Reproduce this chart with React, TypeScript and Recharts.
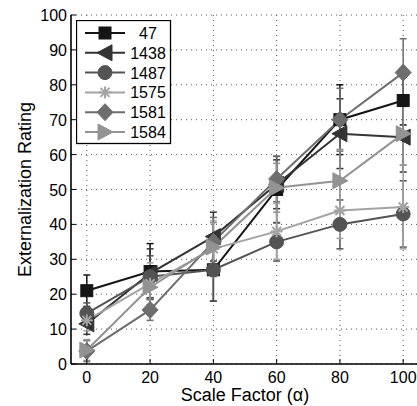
import React from 'react'
import { LineChart, Line, XAxis, YAxis, CartesianGrid, ErrorBar } from 'recharts'

// scale factor (alpha) on the x axis
const factors = [0, 20, 40, 60, 80, 100]

// mean externalization rating per participant
const r47 = [21, 26.5, 27, 50, 70, 75.5]
const r1438 = [11.5, 26, 36.5, 51.5, 66, 65]
const r1487 = [14.5, 25, 27, 35, 40, 43]
const r1575 = [12.5, 23, 33, 38, 44, 45]
const r1581 = [3.7, 15.5, 35, 53, 70, 83.5]
const r1584 = [4, 22, 33.5, 50.5, 52.5, 66]

// error bar half-lengths
const e47 = [4.5, 8, 9, 9.5, 10, 7]
const e1438 = [3, 7, 7, 7, 10, 10]
const e1487 = [3, 6, 9, 5.5, 7, 9.5]
const e1575 = [3, 6, 8, 8, 8, 12]
const e1581 = [3, 3, 7, 6.5, 9, 9.7]
const e1584 = [3, 5, 7, 7, 9, 9]

const xTicks = [0, 20, 40, 60, 80, 100]
const yTicks = [0, 10, 20, 30, 40, 50, 60, 70, 80, 90, 100]

const series = [
  { key: 's47', err: 'e47', name: '47', color: '#151515', shape: 'square', values: r47, errors: e47 },
  { key: 's1438', err: 'e1438', name: '1438', color: '#333333', shape: 'left', values: r1438, errors: e1438 },
  { key: 's1487', err: 'e1487', name: '1487', color: '#535353', shape: 'circle', values: r1487, errors: e1487 },
  { key: 's1575', err: 'e1575', name: '1575', color: '#a3a3a3', shape: 'star', values: r1575, errors: e1575 },
  { key: 's1581', err: 'e1581', name: '1581', color: '#6e6e6e', shape: 'diamond', values: r1581, errors: e1581 },
  { key: 's1584', err: 'e1584', name: '1584', color: '#939393', shape: 'right', values: r1584, errors: e1584 },
]

const rows = factors.map((f, i) => {
  const row: Record<string, number> = { factor: f }
  series.forEach(s => {
    row[s.key] = s.values[i]
    row[s.err] = s.errors[i]
  })
  return row
})

const FONT = '"Liberation Sans", Arial, Helvetica, sans-serif'

function Marker({ shape, cx, cy, color }: { shape: string; cx: number; cy: number; color: string }) {
  switch (shape) {
    case 'square':
      return <rect x={cx - 6} y={cy - 6} width={12} height={12} fill={color} stroke={color} />
    case 'left':
      return <polygon points={`${cx - 8},${cy} ${cx + 7},${cy - 8} ${cx + 7},${cy + 8}`} fill={color} stroke={color} />
    case 'right':
      return <polygon points={`${cx + 8},${cy} ${cx - 7},${cy - 8} ${cx - 7},${cy + 8}`} fill={color} stroke={color} />
    case 'circle':
      return <circle cx={cx} cy={cy} r={7} fill={color} stroke={color} />
    case 'diamond':
      return <polygon points={`${cx},${cy - 8.5} ${cx + 8},${cy} ${cx},${cy + 8.5} ${cx - 8},${cy}`} fill={color} stroke={color} />
    default:
      return (
        <g stroke={color} strokeWidth={2}>
          <line x1={cx - 6} y1={cy} x2={cx + 6} y2={cy} />
          <line x1={cx} y1={cy - 6} x2={cx} y2={cy + 6} />
          <line x1={cx - 4.5} y1={cy - 4.5} x2={cx + 4.5} y2={cy + 4.5} />
          <line x1={cx - 4.5} y1={cy + 4.5} x2={cx + 4.5} y2={cy - 4.5} />
        </g>
      )
  }
}

const BottomTick = (props: any) => {
  const { x, y, payload } = props
  return (
    <g>
      <line x1={x} y1={y} x2={x} y2={y - 5} stroke="#000" />
      <text x={x} y={y + 19} textAnchor="middle" fontSize={16} fontFamily={FONT} fill="#000">
        {payload.value}
      </text>
    </g>
  )
}

const TopTick = (props: any) => {
  const { x, y } = props
  return <line x1={x} y1={y} x2={x} y2={y + 5} stroke="#000" />
}

const LeftTick = (props: any) => {
  const { x, y, payload } = props
  return (
    <g>
      <line x1={x} y1={y} x2={x + 5} y2={y} stroke="#000" />
      <text x={x - 4} y={y + 6} textAnchor="end" fontSize={16} fontFamily={FONT} fill="#000">
        {payload.value}
      </text>
    </g>
  )
}

function LegendBox() {
  return (
    <svg width={96} height={125} style={{ position: 'absolute', left: 76, top: 20 }}>
      <rect x={0.5} y={0.5} width={94} height={123} fill="#fff" stroke="#000" strokeWidth={1.3} />
      {series.map((s, i) => {
        const y = 13 + i * 19.8
        return (
          <g key={s.key}>
            <line x1={9} y1={y} x2={49} y2={y} stroke={s.color} strokeWidth={2} />
            <Marker shape={s.shape} cx={29} cy={y} color={s.color} />
            <text x={72} y={y + 6} textAnchor="middle" fontSize={16} fontFamily={FONT} fill="#000">
              {s.name}
            </text>
          </g>
        )
      })}
    </svg>
  )
}

const axisLine = { stroke: '#000', strokeWidth: 1.6 }

export default function App() {
  return (
    <div style={{ position: 'fixed', left: 0, top: 0, width: 417, height: 406, overflow: 'hidden', background: '#fff' }}>
      <LineChart width={420} height={406} data={rows} margin={{ top: 15, right: 1, bottom: 0, left: 0 }}>
        <CartesianGrid stroke="#555" strokeDasharray="1 4" horizontalValues={yTicks} verticalValues={xTicks} />
        <XAxis
          dataKey="factor"
          type="number"
          domain={[-5, 105]}
          ticks={xTicks}
          height={42}
          axisLine={axisLine}
          tickLine={false}
          tickSize={0}
          tickMargin={0}
          tick={BottomTick}
          label={{
            content: (p: any) => (
              <text
                x={p.viewBox.x + p.viewBox.width / 2}
                y={p.viewBox.y + 37}
                textAnchor="middle"
                fontSize={18}
                fontFamily={FONT}
                fill="#000"
              >
                Scale Factor (α)
              </text>
            ),
          }}
        />
        <XAxis
          xAxisId="top"
          orientation="top"
          dataKey="factor"
          type="number"
          domain={[-5, 105]}
          ticks={xTicks}
          height={0}
          axisLine={axisLine}
          tickLine={false}
          tickSize={0}
          tickMargin={0}
          tick={TopTick}
        />
        <YAxis
          type="number"
          domain={[0, 100]}
          ticks={yTicks}
          width={71}
          axisLine={axisLine}
          tickLine={false}
          tickSize={0}
          tickMargin={0}
          tick={LeftTick}
          label={{
            content: (p: any) => {
              const cy = p.viewBox.y + p.viewBox.height / 2
              return (
                <text
                  x={31}
                  y={cy}
                  transform={`rotate(-90, 31, ${cy})`}
                  textAnchor="middle"
                  fontSize={18}
                  fontFamily={FONT}
                  fill="#000"
                >
                  Externalization Rating
                </text>
              )
            },
          }}
        />
        {series.map(s => (
          <Line
            key={s.key}
            dataKey={s.key}
            name={s.name}
            stroke={s.color}
            strokeWidth={2}
            isAnimationActive={false}
            dot={(p: any) => <Marker key={`${s.key}-${p.index}`} shape={s.shape} cx={p.cx} cy={p.cy} color={s.color} />}
          >
            <ErrorBar dataKey={s.err} direction="y" width={3.5} stroke={s.color} strokeWidth={1.5} />
          </Line>
        ))}
      </LineChart>
      <LegendBox />
    </div>
  )
}
